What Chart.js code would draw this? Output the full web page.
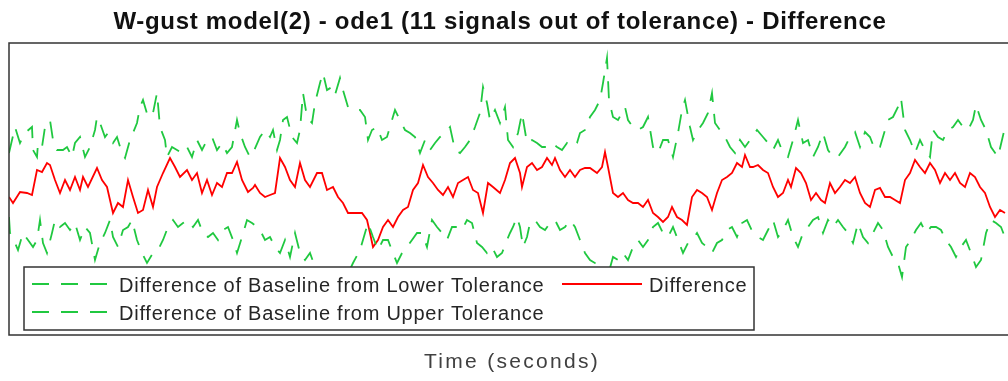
<!DOCTYPE html>
<html>
<head>
<meta charset="utf-8">
<script src="https://cdn.jsdelivr.net/npm/chart.js@4"></script>
<style>
  html, body { margin: 0; padding: 0; background: #fff; overflow: hidden; }
  #wrap { width: 1010px; height: 381px; }
</style>
</head>
<body>
<div id="wrap"><canvas id="main-chart" width="1010" height="381"></canvas></div>
<script>
const titleText = 'W-gust model(2) - ode1 (11 signals out of tolerance) - Difference';
const xLabel = 'Time (seconds)';
const seriesNames = ['Difference of Baseline from Lower Tolerance', 'Difference of Baseline from Upper Tolerance', 'Difference'];

// red signal
const diffTime = [
  0, 0.4, 1.1, 1.8, 2.3, 2.8, 3.3, 3.8, 4.1, 4.6,
  5.1, 5.6, 6.1, 6.6, 7.1, 7.4, 7.9, 8.8, 9.3, 9.8,
  10.4, 10.9, 11.4, 11.9, 12.4, 12.9, 13.4, 13.9, 14.4, 14.8,
  15.4, 16.1, 16.6, 17.1, 17.8, 18.3, 18.8, 19.3, 19.8, 20.3,
  20.8, 21.3, 21.8, 22.3, 22.8, 23.3, 23.9, 24.4, 24.6, 25.1,
  25.6, 26.1, 26.6, 27.1, 27.6, 28.1, 28.6, 29.1, 29.6, 30.1,
  30.8, 31.3, 31.8, 32.4, 32.9, 33.4, 33.9, 34.6, 35.3, 35.8,
  36.1, 36.4, 36.9, 37.4, 37.9, 38.4, 38.9, 39.4, 39.9, 40.4,
  40.9, 41.4, 41.9, 42.4, 42.9, 43.4, 43.9, 44.4, 44.9, 45.4,
  45.9, 46.4, 46.9, 47.4, 47.9, 48.4, 49.1, 49.6, 50.1, 50.6,
  51.1, 51.3, 51.8, 52.3, 52.8, 53.3, 53.8, 54.3, 54.6, 55.1,
  55.6, 56.1, 56.6, 57.1, 57.6, 58.1, 58.8, 59.3, 59.6, 59.9,
  60.4, 60.9, 61.4, 61.9, 62.4, 62.9, 63.4, 63.9, 64.4, 64.9,
  65.4, 65.9, 66.3, 66.8, 67.3, 67.8, 68.3, 68.8, 69.3, 69.8,
  70.3, 70.8, 71.3, 71.8, 72.3, 72.8, 73.3, 73.6, 74.1, 74.4,
  74.9, 75.4, 75.9, 76.4, 76.9, 77.4, 77.9, 78.2, 78.7, 79.2,
  79.7, 80.2, 80.7, 81.2, 81.6, 82.1, 82.6, 83.1, 83.6, 84.1,
  84.6, 85.1, 85.6, 86.1, 86.6, 87.1, 87.6, 88.1, 88.6, 89.1,
  89.6, 90.1, 90.6, 91.1, 91.6, 92.1, 92.6, 93.1, 93.6, 94.1,
  94.6, 95.1, 95.6, 96.1, 96.6, 97.1, 97.6, 98.1, 98.6, 99.1,
  99.6
];
const diffValues = [
  -0.16, -0.28, -0.06, -0.08, -0.12, 0.38, 0.34, 0.52, 0.48, 0.18,
  -0.08, 0.18, -0.02, 0.24, -0.02, 0.24, 0.04, 0.42, 0.18, 0.04,
  -0.48, -0.28, -0.36, 0.18, -0.16, -0.48, -0.42, -0.02, -0.36, 0.04,
  0.32, 0.62, 0.44, 0.24, 0.38, 0.18, 0.32, -0.08, 0.18, -0.12,
  0.12, 0.04, 0.32, 0.32, 0.54, 0.18, -0.06, 0.02, 0.08, -0.08,
  -0.16, -0.12, -0.08, 0.62, 0.44, 0.18, 0.04, 0.52, 0.18, 0.04,
  0.32, 0.32, -0.02, 0.04, -0.16, -0.28, -0.48, -0.48, -0.48, -0.62,
  -0.88, -1.16, -1.02, -0.76, -0.62, -0.76, -0.56, -0.42, -0.36, -0.02,
  0.12, 0.48, 0.24, 0.12, -0.02, -0.12, 0.04, -0.16, 0.12, 0.18,
  0.24, -0.02, -0.08, -0.48, 0.12, 0.04, -0.08, 0.18, 0.52, 0.62,
  0.32, 0.04, 0.44, 0.52, 0.38, 0.44, 0.62, 0.48, 0.62, 0.38,
  0.24, 0.38, 0.24, 0.38, 0.42, 0.42, 0.32, 0.44, 0.74, 0.44,
  -0.08, -0.16, -0.08, -0.22, -0.28, -0.28, -0.36, -0.22, -0.48, -0.56,
  -0.66, -0.56, -0.36, -0.56, -0.62, -0.72, -0.16, -0.02, -0.08, -0.16,
  -0.42, -0.08, 0.18, 0.24, 0.32, 0.52, 0.44, 0.68, 0.44, 0.44,
  0.48, 0.38, 0.32, 0.04, -0.16, -0.08, 0.18, 0.04, 0.42, 0.32,
  0.12, -0.22, -0.08, -0.22, -0.28, 0.12, -0.08, 0.04, 0.18, 0.12,
  0.24, -0.08, -0.28, -0.36, -0.02, 0.02, -0.16, -0.16, -0.22, -0.28,
  0.18, 0.32, 0.58, 0.44, 0.32, 0.52, 0.38, 0.12, 0.32, 0.18,
  0.32, 0.12, 0.04, 0.32, 0.24, 0.04, -0.08, -0.36, -0.56, -0.42,
  -0.48
];

// green dashed, upper band
const upperTime = [
  0, 0.6, 1.1, 1.6, 2.3, 2.4, 2.8, 2.9, 3.3, 3.6,
  4.1, 4.4, 4.8, 5.4, 5.8, 6.3, 6.6, 7.1, 7.6, 8.1,
  8.6, 8.8, 9.1, 9.6, 9.9, 10.4, 10.8, 11.3, 11.6, 12.1,
  12.4, 12.8, 13.1, 13.4, 13.9, 14.4, 14.8, 15.1, 15.6, 15.8,
  16.3, 16.8, 17.3, 17.8, 18.3, 18.8, 19.3, 19.8, 20.3, 20.8,
  21.3, 21.8, 22.3, 22.8, 23.1, 23.6, 24.1, 24.4, 25.1, 25.6,
  26.1, 26.4, 26.8, 27.1, 27.4, 27.8, 28.3, 28.8, 29.1, 29.4,
  29.8, 30.3, 30.6, 31.1, 31.4, 31.8, 32.3, 32.6, 33.1, 33.4,
  33.9, 34.4, 35.1, 35.6, 35.9, 36.3, 36.8, 37.3, 37.8, 38.3,
  38.6, 39.1, 39.6, 40.1, 40.6, 41.1, 41.6, 42.1, 42.6, 43.1,
  43.6, 44.1, 44.6, 45.1, 45.6, 46.1, 46.6, 47.1, 47.4, 47.8,
  48.1, 48.6, 49.1, 49.6, 49.9, 50.4, 50.9, 51.3, 51.8, 52.3,
  52.8, 53.3, 53.8, 54.3, 54.8, 55.3, 55.8, 56.3, 56.8, 57.1,
  57.6, 58.1, 58.6, 59.1, 59.4, 59.8, 60.0, 60.4, 60.9, 61.6,
  61.9, 62.4, 62.9, 63.4, 63.9, 64.4, 64.9, 65.4, 65.9, 66.4,
  66.9, 67.3, 67.6, 68.1, 68.4, 68.9, 69.4, 69.9, 70.3, 70.6,
  71.1, 71.6, 72.1, 72.6, 73.1, 73.6, 74.1, 74.8, 75.4, 75.9,
  76.4, 76.9, 77.4, 77.9, 78.4, 78.9, 79.4, 79.9, 80.4, 80.9,
  81.4, 81.9, 82.4, 82.9, 83.6, 84.1, 84.6, 85.1, 85.6, 86.1,
  86.6, 87.1, 87.6, 87.9, 88.4, 88.9, 89.2, 89.6, 90.1, 90.6,
  91.1, 91.6, 92.1, 92.4, 92.9, 93.4, 93.9, 94.4, 94.9, 95.4,
  95.9, 96.4, 96.7, 97.2, 97.7, 98.2, 98.9, 99.6
];
const upperValues = [
  0.72, 1.24, 0.92, 1.12, 1.24, 0.78, 0.64, 0.92, 0.84, 1.24,
  1.38, 0.98, 0.78, 0.78, 0.84, 0.64, 0.92, 1.04, 0.64, 0.84,
  1.18, 1.44, 1.32, 1.04, 1.12, 0.92, 1.04, 0.72, 0.62, 0.98,
  1.12, 1.32, 1.64, 1.78, 1.44, 1.52, 1.92, 1.24, 0.98, 0.64,
  0.84, 0.78, 0.72, 0.84, 0.64, 0.98, 0.78, 0.98, 1.04, 0.78,
  0.92, 0.72, 0.84, 1.38, 1.12, 0.84, 0.64, 0.72, 1.04, 1.18,
  1.04, 1.18, 0.78, 0.98, 1.38, 1.44, 1.04, 0.92, 1.18, 1.92,
  1.44, 1.32, 1.72, 2.12, 2.32, 1.98, 2.04, 1.88, 2.22, 1.98,
  1.64, 1.58, 1.58, 1.44, 0.98, 1.18, 1.24, 0.98, 1.04, 1.38,
  1.58, 1.38, 1.18, 1.12, 1.04, 0.72, 0.98, 0.78, 0.92, 1.04,
  1.12, 1.24, 0.78, 0.72, 0.84, 0.98, 1.24, 1.52, 2.04, 1.72,
  1.38, 1.58, 1.32, 1.64, 0.98, 0.84, 1.12, 1.52, 0.92, 0.98,
  0.92, 0.84, 0.84, 0.92, 0.84, 0.78, 0.92, 0.84, 0.92, 1.12,
  1.18, 1.44, 1.58, 1.78, 2.12, 2.62, 1.78, 1.44, 1.38, 1.64,
  1.38, 1.24, 1.18, 1.24, 1.44, 0.84, 0.72, 0.98, 0.98, 0.64,
  1.12, 1.58, 1.78, 1.24, 0.98, 1.18, 1.32, 1.52, 1.92, 1.32,
  1.18, 1.04, 0.84, 0.72, 0.98, 0.84, 0.98, 1.18, 1.04, 0.92,
  0.78, 0.98, 0.72, 0.64, 0.98, 1.38, 0.92, 0.98, 0.64, 0.84,
  1.12, 0.78, 0.64, 0.64, 0.84, 1.04, 1.14, 0.84, 1.14, 1.04,
  0.78, 0.84, 1.18, 1.38, 1.44, 1.64, 1.82, 1.18, 0.98, 0.72,
  0.98, 0.78, 0.64, 1.18, 1.04, 0.98, 1.18, 1.24, 1.38, 1.24,
  1.18, 1.38, 1.68, 1.38, 1.18, 0.84, 0.64, 1.24
];

// green dashed, lower band
const lowerTime = [
  0, 0.1, 0.6, 0.9, 1.4, 1.9, 2.4, 2.8, 3.1, 3.4,
  3.8, 4.3, 4.6, 5.1, 5.6, 6.1, 6.6, 7.1, 7.6, 8.1,
  8.6, 9.1, 9.6, 10.1, 10.4, 10.9, 11.4, 11.9, 12.3, 12.8,
  13.3, 13.8, 14.4, 14.9, 15.4, 15.9, 16.4, 16.9, 17.4, 17.9,
  18.4, 18.9, 19.4, 19.9, 20.4, 20.9, 21.4, 21.9, 22.4, 22.8,
  23.3, 23.8, 24.3, 24.8, 25.1, 25.6, 26.1, 26.6, 27.1, 27.6,
  28.1, 28.6, 29.1, 29.6, 30.1, 30.6, 31.6, 32.6, 33.6, 34.4,
  35.1, 35.6, 35.9, 36.4, 36.9, 37.4, 37.9, 38.4, 38.8, 39.3,
  39.8, 40.3, 40.8, 41.3, 41.8, 42.3, 42.8, 43.3, 43.8, 44.3,
  44.8, 45.3, 45.8, 46.3, 46.8, 47.3, 47.8, 48.3, 48.8, 49.3,
  49.8, 50.1, 50.4, 50.8, 51.1, 51.4, 51.8, 52.1, 52.6, 53.1,
  53.6, 54.1, 54.6, 55.1, 55.6, 56.1, 56.6, 57.1, 57.6, 58.1,
  58.6, 59.4, 59.9, 60.4, 60.9, 61.4, 61.9, 62.4, 62.9, 63.4,
  63.9, 64.4, 64.9, 65.4, 65.9, 66.4, 66.9, 67.4, 67.9, 68.3,
  68.8, 69.3, 69.8, 70.3, 70.8, 71.3, 71.8, 72.3, 72.8, 73.3,
  73.8, 74.4, 74.9, 75.4, 75.9, 76.4, 76.9, 77.4, 77.9, 78.4,
  78.9, 79.4, 79.9, 80.4, 80.9, 81.4, 81.9, 82.4, 82.9, 83.4,
  83.9, 84.4, 84.9, 85.4, 85.9, 86.4, 86.9, 87.4, 87.9, 88.4,
  88.9, 89.3, 89.7, 90.2, 90.7, 91.2, 91.7, 92.2, 92.7, 93.2,
  93.7, 94.2, 94.7, 95.2, 95.7, 96.2, 96.7, 97.2, 97.7, 98.2,
  98.7, 99.2, 99.7
];
const lowerValues = [
  -0.56, -0.88, -1.08, -1.22, -0.88, -1.02, -1.16, -1.02, -0.62, -1.08,
  -1.28, -0.88, -0.62, -0.76, -0.68, -0.82, -0.68, -1.02, -0.76, -0.88,
  -1.42, -1.08, -0.88, -0.62, -0.96, -1.16, -0.82, -0.76, -0.62, -1.02,
  -1.28, -1.48, -1.28, -1.22, -1.02, -0.76, -0.62, -0.76, -0.68, -0.62,
  -0.76, -0.62, -0.88, -0.96, -0.88, -1.02, -0.82, -0.76, -1.02, -1.28,
  -0.96, -0.62, -0.68, -0.76, -0.82, -1.02, -0.96, -1.16, -1.28, -1.02,
  -1.36, -0.88, -1.28, -1.42, -1.28, -1.56, -1.92, -2.12, -1.82, -1.48,
  -1.22, -0.88, -0.68, -0.96, -1.22, -1.02, -1.02, -1.28, -1.48, -1.28,
  -1.16, -1.02, -0.88, -0.88, -1.16, -0.62, -0.76, -0.88, -1.02, -0.76,
  -0.76, -0.82, -0.62, -0.68, -1.08, -1.16, -1.28, -1.16, -1.36, -1.28,
  -1.02, -0.88, -0.76, -0.56, -0.76, -1.16, -0.96, -0.68, -0.62, -0.76,
  -0.82, -0.68, -0.62, -0.82, -0.76, -0.62, -0.76, -1.02, -1.28, -1.42,
  -1.48, -1.92, -1.72, -1.36, -1.42, -1.28, -1.42, -1.16, -1.02, -1.16,
  -1.02, -0.76, -0.68, -0.88, -0.96, -0.76, -1.02, -1.28, -1.08, -1.02,
  -0.88, -1.08, -1.16, -1.28, -1.08, -1.02, -0.82, -0.76, -0.96, -0.68,
  -0.62, -0.88, -0.96, -1.02, -0.82, -0.62, -0.96, -0.82, -0.62, -0.96,
  -1.16, -0.88, -0.76, -0.62, -0.56, -0.88, -0.62, -0.76, -0.62, -0.76,
  -0.88, -1.08, -0.68, -0.96, -1.08, -0.88, -0.68, -0.82, -1.16, -1.36,
  -1.48, -1.76, -1.16, -1.02, -0.82, -0.68, -0.88, -0.76, -0.76, -0.82,
  -1.02, -1.16, -1.36, -1.16, -1.02, -1.28, -1.56, -1.42, -0.88, -0.62,
  -0.68, -0.76, -1.02
];

const GREEN = 'rgb(32,200,64)';
const RED = '#ff0000';

const toPoints = (times, values) => times.map((t, i) => ({ x: t, y: values[i] }));

// MATLAB-ish box, title, xlabel and in-axes legend
const matlabDecor = {
  id: 'matlabDecor',
  afterDraw(chart) {
    const { ctx, chartArea: a } = chart;
    ctx.save();
    ctx.strokeStyle = '#333333';
    ctx.lineWidth = 1.5;
    ctx.setLineDash([]);
    ctx.strokeRect(a.left, a.top, a.right - a.left, a.bottom - a.top);

    ctx.fillStyle = '#111111';
    ctx.font = 'bold 24px "Liberation Sans", Arial, sans-serif';
    ctx.letterSpacing = '0.7px';
    ctx.textAlign = 'center';
    ctx.textBaseline = 'alphabetic';
    ctx.fillText(titleText, 500, 29);

    ctx.fillStyle = '#404040';
    ctx.font = '21px "Liberation Sans", Arial, sans-serif';
    ctx.letterSpacing = '2.3px';
    ctx.fillText(xLabel, 512, 368);

    // legend box
    const bx = 24, by = 267, bw = 730, bh = 63;
    ctx.fillStyle = '#ffffff';
    ctx.fillRect(bx, by, bw, bh);
    ctx.strokeStyle = '#333333';
    ctx.lineWidth = 1.5;
    ctx.strokeRect(bx, by, bw, bh);

    const ds = chart.data.datasets;
    const items = [
      { d: ds[0], x: 32, y: 284 },
      { d: ds[2], x: 562, y: 284 },
      { d: ds[1], x: 32, y: 312 },
    ];
    ctx.font = '20px "Liberation Sans", Arial, sans-serif';
    ctx.letterSpacing = '0.75px';
    ctx.textAlign = 'left';
    items.forEach(({ d, x, y }) => {
      ctx.strokeStyle = d.borderColor;
      ctx.lineWidth = 2;
      ctx.setLineDash(d.borderDash || []);
      ctx.beginPath();
      ctx.moveTo(x, y);
      ctx.lineTo(x + 80, y);
      ctx.stroke();
      ctx.fillStyle = '#262626';
      ctx.fillText(d.label, x + 87, y + 8);
    });
    ctx.restore();
  },
};

const ctx = document.getElementById('main-chart');
new Chart(ctx, {
  type: 'line',
  data: {
    datasets: [
      {
        label: seriesNames[0],
        data: toPoints(lowerTime, lowerValues),
        borderColor: GREEN,
        borderWidth: 1.8,
        borderDash: [17, 12],
      },
      {
        label: seriesNames[1],
        data: toPoints(upperTime, upperValues),
        borderColor: GREEN,
        borderWidth: 1.8,
        borderDash: [17, 12],
      },
      {
        label: seriesNames[2],
        data: toPoints(diffTime, diffValues),
        borderColor: RED,
        borderWidth: 1.8,
      },
    ],
  },
  options: {
    responsive: false,
    animation: false,
    layout: { padding: { left: 9, top: 43, right: 1, bottom: 46 } },
    elements: { point: { radius: 0 }, line: { tension: 0 } },
    plugins: {
      title: { display: false },
      legend: { display: false },
      tooltip: { enabled: false },
    },
    scales: {
      x: { type: 'linear', min: 0, max: 100, display: false },
      y: { type: 'linear', min: -2.92, max: 2.92, display: false },
    },
  },
  plugins: [matlabDecor],
});
</script>
</body>
</html>
